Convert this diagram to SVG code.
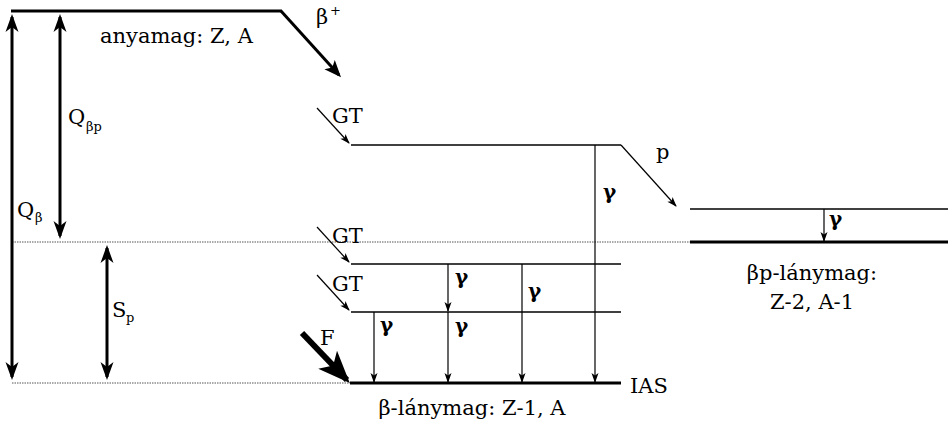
<svg xmlns="http://www.w3.org/2000/svg" width="951" height="426" viewBox="0 0 951 426" font-family="DejaVu Serif, Liberation Serif, serif">
<style>
.t{font-size:21px}
.s{font-size:13px}
.g{font-size:20px;font-weight:bold}
.lvl{stroke:#000;stroke-width:1.4;fill:none}
.thick{stroke:#000;stroke-width:3;fill:none}
.dot{stroke:#555;stroke-width:1;stroke-dasharray:1.5 1;fill:none}
.gam{stroke:#000;stroke-width:1.2;fill:none;marker-end:url(#sm)}
.big{stroke:#000;stroke-width:3;fill:none;marker-start:url(#bg);marker-end:url(#bg)}
</style>
<defs>
<marker id="sm" markerUnits="userSpaceOnUse" viewBox="-12 -6 14 12" refX="0" refY="0" markerWidth="14" markerHeight="12" orient="auto">
<path d="M1,0 L-9,-3.5 L-6.5,0 L-9,3.5 Z" fill="#000"/>
</marker>
<marker id="bg" markerUnits="userSpaceOnUse" viewBox="-20 -10 24 20" refX="0" refY="0" markerWidth="24" markerHeight="20" orient="auto-start-reverse">
<path d="M3,0 L-15,-6.5 L-10,0 L-15,6.5 Z" fill="#000"/>
</marker>
<marker id="bb" markerUnits="userSpaceOnUse" viewBox="-20 -10 24 20" refX="0" refY="0" markerWidth="24" markerHeight="20" orient="auto">
<path d="M3,0 L-14,-7 L-10,0 L-14,7 Z" fill="#000"/>
</marker>
<marker id="ff" markerUnits="userSpaceOnUse" viewBox="-34 -16 38 32" refX="0" refY="0" markerWidth="38" markerHeight="32" orient="auto">
<path d="M4,0 L-28,-13 L-20,0 L-28,13 Z" fill="#000"/>
</marker>
</defs>

<g id="reference-lines">
<line class="dot" x1="12" y1="242" x2="690" y2="242"/>
<line class="dot" x1="12" y1="383" x2="350" y2="383"/>
</g>

<g id="parent-nucleus">
<line class="thick" x1="11" y1="11" x2="282" y2="11"/>
<text class="t" x="100" y="43">anyamag: Z, A</text>
</g>

<g id="level-1">
<line class="lvl" x1="351" y1="145" x2="621" y2="145"/>
</g>
<g id="level-2">
<line class="lvl" x1="351" y1="264" x2="621" y2="264"/>
</g>
<g id="level-3">
<line class="lvl" x1="351" y1="312" x2="621" y2="312"/>
</g>
<g id="beta-daughter-ground">
<line class="thick" x1="350" y1="383" x2="621" y2="383"/>
<text class="t" x="630" y="393">IAS</text>
<text class="t" x="472" y="415" text-anchor="middle">β-lánymag: Z-1, A</text>
</g>
<g id="bp-daughter-excited">
<line class="lvl" x1="690" y1="209" x2="948" y2="209"/>
</g>
<g id="bp-daughter-ground">
<line class="thick" x1="690" y1="242" x2="948" y2="242"/>
<text class="t" x="812" y="280" text-anchor="middle">βp-lánymag:</text>
<text class="t" x="812" y="309" text-anchor="middle">Z-2, A-1</text>
</g>

<g id="connectors">
<line class="big" x1="12" y1="17" x2="12" y2="377"/>
<line class="big" x1="60" y1="17" x2="60" y2="236"/>
<line class="big" x1="107" y1="248" x2="107" y2="377"/>
<line x1="281" y1="11" x2="339" y2="75" stroke="#000" stroke-width="3" marker-end="url(#bb)"/>
<line x1="317" y1="108" x2="349" y2="143" stroke="#000" stroke-width="1.2" marker-end="url(#sm)"/>
<line x1="317" y1="227" x2="349" y2="262" stroke="#000" stroke-width="1.2" marker-end="url(#sm)"/>
<line x1="317" y1="275" x2="349" y2="310" stroke="#000" stroke-width="1.2" marker-end="url(#sm)"/>
<line x1="302" y1="333" x2="347" y2="380" stroke="#000" stroke-width="6" marker-end="url(#ff)"/>
<line x1="621" y1="145" x2="676" y2="206" stroke="#000" stroke-width="1.2" marker-end="url(#sm)"/>
<line class="gam" x1="595" y1="145" x2="595" y2="382"/>
<line class="gam" x1="522" y1="264" x2="522" y2="382"/>
<line class="gam" x1="448" y1="264" x2="448" y2="311"/>
<line class="gam" x1="448" y1="312" x2="448" y2="382"/>
<line class="gam" x1="374" y1="312" x2="374" y2="382"/>
<line class="gam" x1="824" y1="209" x2="824" y2="241"/>
</g>

<g id="labels">
<text class="t" x="316" y="24">β</text><text class="s" x="330" y="15">+</text>
<text class="t" x="68" y="124">Q</text><text class="s" x="86" y="131">βp</text>
<text class="t" x="17" y="217">Q</text><text class="s" x="35" y="222">β</text>
<text class="t" x="112" y="317">S</text><text class="s" x="126" y="322">p</text>
<text class="t" x="332" y="123">GT</text>
<text class="t" x="332" y="243">GT</text>
<text class="t" x="332" y="291">GT</text>
<text class="t" x="320" y="345">F</text>
<text class="t" x="656" y="159">p</text>
<text class="g" x="603" y="199">γ</text>
<text class="g" x="455" y="284">γ</text>
<text class="g" x="528" y="298">γ</text>
<text class="g" x="380" y="332">γ</text>
<text class="g" x="455" y="333">γ</text>
<text class="g" x="829" y="226">γ</text>
</g>
</svg>
